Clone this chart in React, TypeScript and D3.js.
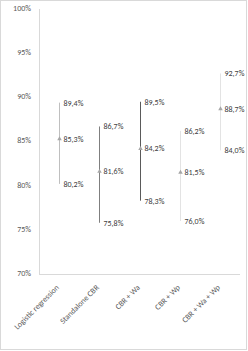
import * as d3 from "d3";

const categories = [
  "Logistic regression",
  "Standalone CBR",
  "CBR + Wa",
  "CBR + Wp",
  "CBR + Wa + Wp",
];
const means = [85.3, 81.6, 84.2, 81.5, 88.7];
const lows = [80.2, 75.8, 78.3, 76.0, 84.0];
const highs = [89.4, 86.7, 89.5, 86.2, 92.7];
const lineColors = ["#bfbfbf", "#7f7f7f", "#5a5a5a", "#e3e3e3", "#e3e3e3"];
const yTicks = [70, 75, 80, 85, 90, 95, 100];

const W = 248;
const H = 351;

export default function App() {
  const x = d3.scaleBand().domain(categories).range([39, 240]);
  const y = d3.scaleLinear().domain([70, 100]).range([274, 9]);
  const fmt = (v: number) => v.toFixed(1).replace(".", ",") + "%";
  const tri = d3.symbol().type(d3.symbolTriangle).size(9)()!;

  return (
    <svg
      width={W}
      height={H}
      style={{ position: "absolute", left: 0, top: 0 }}
      fontFamily="Calibri, Carlito, 'Liberation Sans', sans-serif"
    >
      <rect x={0} y={0} width={W} height={H} fill="#fff" />
      <rect x={0.5} y={0.5} width={W - 2} height={H - 2} fill="none" stroke="#d9d9d9" />
      <line x1={39.5} x2={39.5} y1={y(100)} y2={y(70)} stroke="#d9d9d9" />
      <line x1={39} x2={240} y1={y(70) + 0.5} y2={y(70) + 0.5} stroke="#d9d9d9" />
      {yTicks.map((t) => (
        <text
          key={t}
          x={31}
          y={y(t)}
          textAnchor="end"
          dominantBaseline="middle"
          fontSize={8}
          fill="#595959"
        >
          {t}%
        </text>
      ))}
      {categories.map((c, i) => {
        const cx = Math.round(x(c)! + x.bandwidth() / 2) + 0.5;
        return (
          <g key={c}>
            <line x1={cx} x2={cx} y1={y(highs[i])} y2={y(lows[i])} stroke={lineColors[i]} />
            <path d={tri} transform={`translate(${cx},${y(means[i])})`} fill="#a6a6a6" />
            {[highs[i], means[i], lows[i]].map((v, j) => (
              <text
                key={j}
                x={cx + 4}
                y={y(v) + 1}
                dominantBaseline="middle"
                fontSize={8}
                fill="#404040"
              >
                {fmt(v)}
              </text>
            ))}
            <text
              transform={`translate(${cx},${288}) rotate(-45)`}
              textAnchor="end"
              fontSize={8}
              fill="#595959"
            >
              {c}
            </text>
          </g>
        );
      })}
    </svg>
  );
}
